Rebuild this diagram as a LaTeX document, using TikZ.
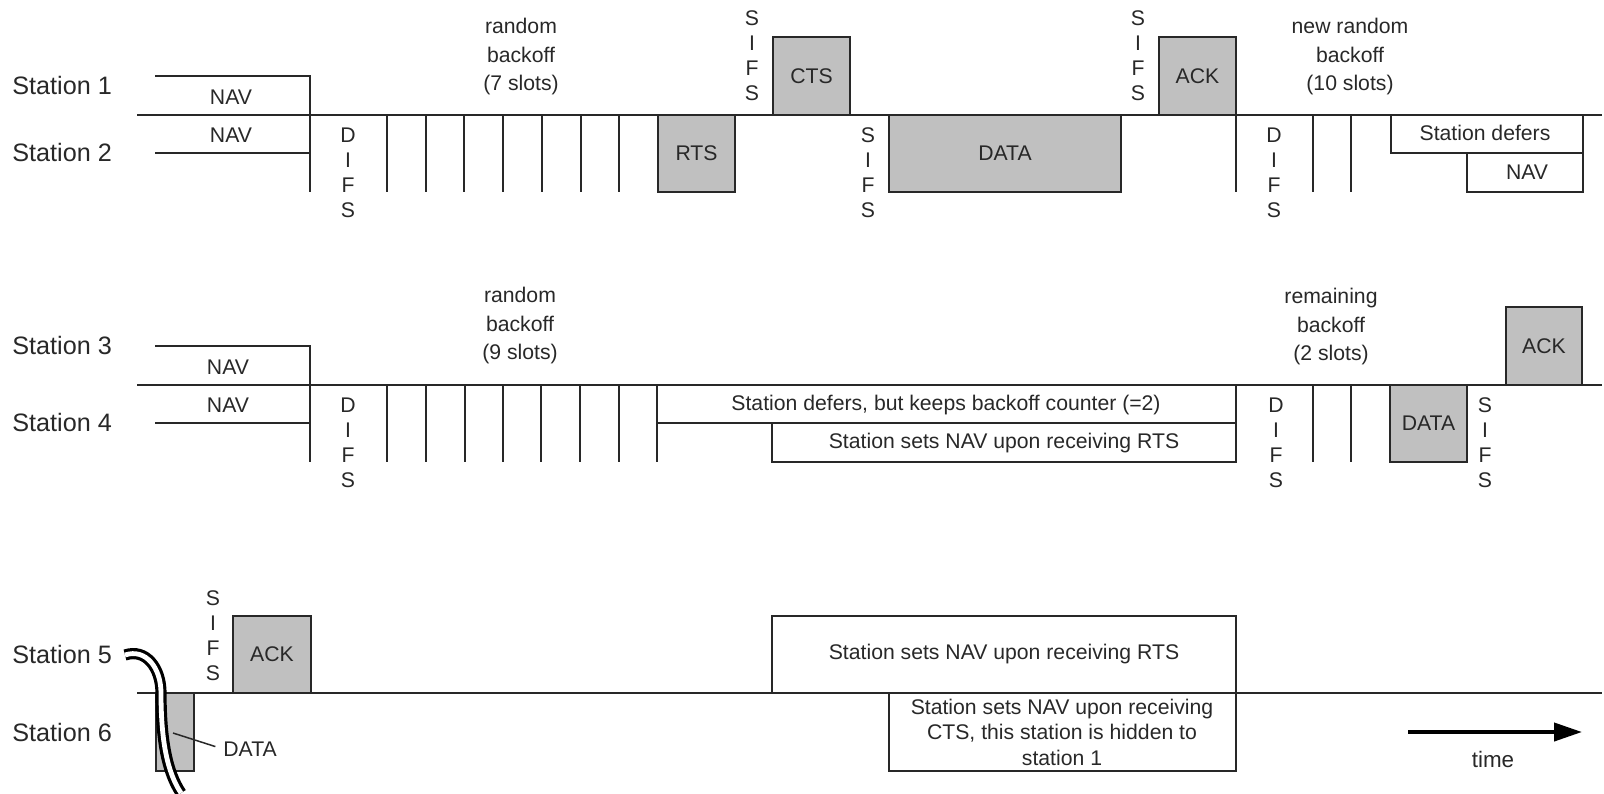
\documentclass[tikz,border=0pt]{standalone}
\usepackage{fontspec}
\setmainfont{Liberation Sans}
\usetikzlibrary{arrows.meta}
\definecolor{ink}{RGB}{40,40,40}
\definecolor{boxgray}{RGB}{192,192,192}
\begin{document}
\begin{tikzpicture}[x=0.5pt,y=-0.5pt,
  ln/.style={draw=ink, line width=0.75pt},
  gbox/.style={draw=ink, fill=boxgray, line width=0.75pt},
  sm/.style={font=\fontsize{10.6}{12.5}\selectfont, text=ink, inner sep=0pt, align=center},
  vl/.style={font=\fontsize{10.6}{12.5}\selectfont, text=ink, inner sep=0pt, align=center},
  bo/.style={font=\fontsize{10.6}{14.25}\selectfont, text=ink, inner sep=0pt, align=center},
  st/.style={font=\fontsize{12.6}{14}\selectfont, text=ink, anchor=west, inner sep=0pt}]
\useasboundingbox (0,0) rectangle (1604,793);

% ================= TOP GROUP (stations 1 and 2) =================
\node[st] (s1) at (12,85) {Station 1};
\node[st] (s2) at (12,152) {Station 2};
\draw[ln] (137,115) -- (1602,115);
\draw[ln] (155,76) -- (310,76) -- (310,115);
\draw[ln] (155,153) -- (310,153);
\draw[ln] (310,115) -- (310,192);
\node[sm] (nav1) at (231,97) {NAV};
\node[sm] (nav2) at (231,135) {NAV};
\node[vl] (difs1) at (348,172.5) {D\\I\\F\\S};
\foreach \x in {387,426,464,503,542,581,619} \draw[ln] (\x,115) -- (\x,192);
\node[bo] (rb1) at (521,57) {random\\backoff\\(7 slots)};
\draw[gbox] (658,115) rectangle (735,192);
\node[sm] (rts) at (696.5,153.5) {RTS};
\node[vl] (sifs1) at (752,55.5) {S\\I\\F\\S};
\draw[gbox] (773,37) rectangle (850,115);
\node[sm] (cts) at (811.5,76) {CTS};
\node[vl] (sifs2) at (868,172.5) {S\\I\\F\\S};
\draw[gbox] (889,115) rectangle (1121,192);
\node[sm] (data1) at (1005,153.5) {DATA};
\node[vl] (sifs3) at (1138,55.5) {S\\I\\F\\S};
\draw[gbox] (1159,37) rectangle (1236,115);
\node[sm] (ack1) at (1197.5,76) {ACK};
\draw[ln] (1236,115) -- (1236,192);
\node[vl] (difs2) at (1274,172.5) {D\\I\\F\\S};
\foreach \x in {1313,1351} \draw[ln] (\x,115) -- (\x,192);
\node[bo] (rb2) at (1350,57) {new random\\backoff\\(10 slots)};
\draw[ln] (1391,115) -- (1391,153) -- (1583,153);
\draw[ln] (1583,115) -- (1583,192) -- (1467,192) -- (1467,153);
\node[sm] (def1) at (1485,133) {Station defers};
\node[sm] (nav2b) at (1527,172) {NAV};

% ================= MIDDLE GROUP (stations 3 and 4) =================
\node[st] (s3) at (12,345) {Station 3};
\node[st] (s4) at (12,422) {Station 4};
\draw[ln] (137,385) -- (1602,385);
\draw[ln] (155,346) -- (310,346) -- (310,385);
\draw[ln] (155,423) -- (310,423);
\draw[ln] (310,385) -- (310,462);
\node[sm] (nav3) at (228,367) {NAV};
\node[sm] (nav4) at (228,405) {NAV};
\node[vl] (difs3) at (348,442.5) {D\\I\\F\\S};
\foreach \x in {387,426,465,503,541,580,619} \draw[ln] (\x,385) -- (\x,462);
\node[bo] (rb3) at (520,326) {random\\backoff\\(9 slots)};
\draw[ln] (657,385) -- (657,462);
\draw[ln] (657,423) -- (1236,423);
\draw[ln] (1236,385) -- (1236,462) -- (772,462) -- (772,423);
\node[sm] (def4) at (946,405) {Station defers, but keeps backoff counter (=2)};
\node[sm] (nav4b) at (1004,443) {Station sets NAV upon receiving RTS};
\node[vl] (difs4) at (1276,442.5) {D\\I\\F\\S};
\foreach \x in {1313,1351} \draw[ln] (\x,385) -- (\x,462);
\node[bo] (rb4) at (1331,327) {remaining\\backoff\\(2 slots)};
\draw[gbox] (1390,385) rectangle (1467,462);
\node[sm] (data4) at (1428.5,423.5) {DATA};
\node[vl] (sifs4) at (1485,442.5) {S\\I\\F\\S};
\draw[gbox] (1506,307) rectangle (1582,385);
\node[sm] (ack3) at (1544,346) {ACK};

% ================= BOTTOM GROUP (stations 5 and 6) =================
\node[st] (s5) at (12,654) {Station 5};
\node[st] (s6) at (12,732) {Station 6};
\draw[ln] (137,693) -- (1602,693);
\draw[gbox] (156,693) rectangle (194,771);
\node[vl] (sifs5) at (213,635.5) {S\\I\\F\\S};
\draw[gbox] (233,616) rectangle (311,693);
\node[sm] (ack5) at (272,654.5) {ACK};
\draw[ln] (772,693) -- (772,616) -- (1236,616) -- (1236,771) -- (889,771) -- (889,693);
\node[sm] (nav5) at (1004,654) {Station sets NAV upon receiving RTS};
\node[sm, font=\fontsize{10.6}{12.75}\selectfont] (nav6) at (1062,732) {Station sets NAV upon receiving\\CTS, this station is hidden to\\station 1};
% break symbol
\draw[draw=black, double=white, double distance=2.4pt, line width=1.6pt]
  (125,655) .. controls (146,648) and (161,668) .. (161,693)
  .. controls (161,740) and (167,772) .. (181,793);
% DATA label with leader
\node[sm, anchor=west] (data6) at (223,749) {DATA};
\coordinate (d6) at (173,733);
\draw[ln, shorten >=4pt] (d6) -- (data6.west);
% time arrow
\coordinate (t0) at (1408,732);
\coordinate (t1) at (1582,732);
\draw[draw=black, line width=2pt, -{Triangle[length=14pt,width=9pt]}] (t0) -- (t1);
\node[sm, font=\fontsize{11.2}{13}\selectfont] (time) at (1493,759) {time};
\end{tikzpicture}
\end{document}
